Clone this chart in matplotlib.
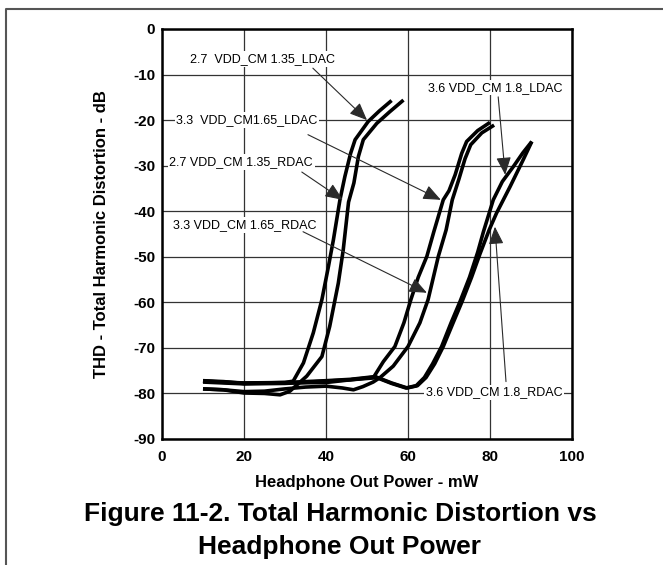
import matplotlib
matplotlib.use("Agg")
import matplotlib.pyplot as plt
from matplotlib.lines import Line2D

plt.rcParams['font.family'] = ['Liberation Sans', 'DejaVu Sans']

# ---- data (x: mW, y: dB) ----
ldac27_x = [10, 15, 20, 25, 30, 32, 34.5, 36.9, 39, 40.6, 41.8, 43.4, 44.6, 46.0, 47.1, 50.3, 53, 56.0]
ldac27_y = [-77.2, -77.4, -77.8, -77.7, -77.6, -77.3, -73.3, -66.7, -59.4, -52.1, -46.3, -37.5, -32.4, -27.3, -24.3, -20.3, -18.0, -15.7]

rdac27_x = [10, 15, 20, 25, 28.8, 31.2, 35.3, 39, 40.9, 43, 44.2, 45.5, 46.8, 47.9, 49.1, 52.4, 55.5, 58.9]
rdac27_y = [-79.0, -79.2, -79.9, -80.0, -80.3, -79.5, -76.2, -71.9, -65.3, -55.8, -48.5, -38.0, -33.8, -28.0, -24.3, -20.7, -18.2, -15.6]

ldac33_x = [10, 20, 30, 40, 46, 51.5, 54, 56.8, 59, 60.7, 62.5, 64.6, 66.3, 68.6, 70, 71.5, 73.1, 74.3, 77, 80]
ldac33_y = [-77.3, -77.8, -77.7, -77.6, -77.0, -76.6, -73.0, -69.7, -64.5, -59.4, -54.5, -49.9, -44.5, -37.5, -35.5, -32.0, -27.3, -24.7, -22.3, -20.5]

rdac33_x = [10, 15, 20, 25, 30, 35, 40, 44, 46.7, 49, 51.5, 53.2, 56.4, 60, 62.9, 64.9, 67.4, 69.3, 70.8, 72.4, 73.9, 75.3, 78, 81]
rdac33_y = [-79.0, -79.2, -79.6, -79.5, -79.0, -78.6, -78.4, -78.8, -79.2, -78.5, -77.5, -76.5, -74.0, -69.7, -64.5, -59.4, -49.9, -44.1, -37.5, -33.0, -28.5, -25.4, -22.8, -21.1]

ldac36_x = [10, 20, 30, 40, 46, 52, 56, 59.5, 62, 64, 66, 68.2, 70.5, 72.7, 75, 77, 78.4, 80.8, 83, 85.7, 88, 90.2]
ldac36_y = [-77.5, -77.9, -77.8, -77.3, -77.0, -76.4, -77.8, -78.8, -78.3, -76.5, -73.5, -69.7, -64.5, -59.8, -54.5, -49.0, -44.5, -37.5, -33.5, -30.2, -27.2, -24.7]

rdac36_x = [10, 20, 30, 40, 46, 52, 56, 59.8, 62.3, 64.4, 66.5, 68.6, 71, 73.2, 75.5, 77.5, 79.8, 81.6, 84.9, 88.1, 90.2]
rdac36_y = [-77.3, -77.7, -77.6, -77.2, -76.9, -76.3, -77.7, -78.8, -78.3, -76.5, -73.5, -69.7, -64.5, -59.8, -54.5, -49.5, -44.1, -40.4, -34.6, -28.7, -24.7]

x_ticks = [0, 20, 40, 60, 80, 100]
y_ticks = [0, -10, -20, -30, -40, -50, -60, -70, -80, -90]

labels = ["2.7  VDD_CM 1.35_LDAC", "3.3  VDD_CM1.65_LDAC", "2.7 VDD_CM 1.35_RDAC",
          "3.3 VDD_CM 1.65_RDAC", "3.6 VDD_CM 1.8_LDAC", "3.6 VDD_CM 1.8_RDAC"]

# ---- figure ----
fig = plt.figure(figsize=(6.63, 5.65), dpi=100)
W, H = 663, 565
ax = fig.add_axes([162 / W, 1 - 439 / H, 410 / W, 410 / H])

for xs, ys in [(ldac27_x, ldac27_y), (rdac27_x, rdac27_y), (ldac33_x, ldac33_y),
               (rdac33_x, rdac33_y), (ldac36_x, ldac36_y), (rdac36_x, rdac36_y)]:
    ax.plot(xs, ys, color='black', lw=2.6, solid_capstyle='butt', zorder=3)

ax.set_xlim(0, 100)
ax.set_ylim(-90, 0)
ax.set_xticks(x_ticks)
ax.set_yticks(y_ticks)
ax.set_xticklabels([str(v) for v in x_ticks], fontsize=11, fontweight='bold')
ax.set_yticklabels([str(v) for v in y_ticks], fontsize=11, fontweight='bold')
ax.tick_params(length=0, pad=5)
ax.tick_params(axis='x', pad=8)
ax.grid(True, color='#333333', lw=0.9)
ax.set_axisbelow(True)
for s in ax.spines.values():
    s.set_linewidth(1.8)
    s.set_color('black')

ax.set_xlabel("Headphone Out Power - mW", fontsize=12, fontweight='bold', labelpad=8)
ax.set_ylabel("THD - Total Harmonic Distortion - dB", fontsize=12, fontweight='bold', labelpad=17)

# annotations: (text center, arrow start, arrow tip)
ann = [
    ((24.6, -6.6), (36.8, -8.6), (50.0, -20.0)),
    ((20.7, -20.0), (35.6, -23.2), (68.0, -37.5)),
    ((19.3, -29.2), (34.1, -31.4), (44.1, -37.5)),
    ((20.2, -43.0), (34.4, -44.5), (64.6, -57.9)),
    ((81.2, -12.9), (82.0, -14.9), (83.7, -32.0)),
    ((81.0, -79.8), (83.9, -77.4), (81.2, -43.4)),
]
for lab, (tp, st, tip) in zip(labels, ann):
    ax.text(tp[0], tp[1], lab, fontsize=9, ha='center', va='center', zorder=4,
            bbox=dict(facecolor='white', edgecolor='none', pad=1.2))
    ax.annotate('', xy=tip, xytext=st, zorder=5,
                arrowprops=dict(arrowstyle='-|>,head_length=0.9,head_width=0.38',
                                color='#2a2a2a', lw=0.8, shrinkA=0, shrinkB=0,
                                mutation_scale=12))

# caption
fig.text(340 / W, 1 - 514 / H, "Figure 11-2. Total Harmonic Distortion vs",
         fontsize=19, fontweight='bold', ha='center', va='center')
fig.text(340 / W, 1 - 547 / H, "Headphone Out Power",
         fontsize=19, fontweight='bold', ha='center', va='center')

# page frame
fig.add_artist(Line2D([6 / W, 6 / W, 1.0], [0.0, 1 - 9 / H, 1 - 9 / H],
                      color='#555555', lw=1.5, transform=fig.transFigure))

fig.savefig("out.png", dpi=100)
